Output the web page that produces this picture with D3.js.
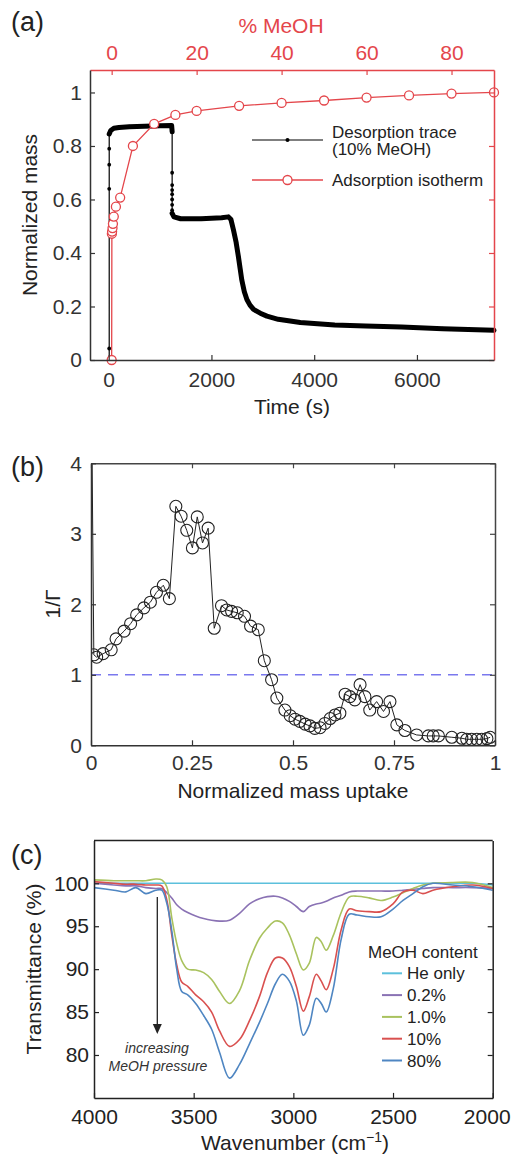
<!doctype html>
<html lang="en">
<head>
  <meta charset="utf-8">
  <title>MeOH adsorption figure</title>
  <style>
    html, body { margin: 0; padding: 0; background: white; }
    svg { display: block; font-family: "Liberation Sans", Arial, sans-serif; }
  </style>
</head>
<body>
  <svg id="fig" width="511" height="1154"></svg>

  <script src="https://d3js.org/d3.v7.min.js"></script>
  <script>
    // ---- panel (a): desorption trace (time s, normalized mass) ----
    const traceT = [10, 10, 10, 10, 10, 10, 40, 100, 200, 400, 700, 1000, 1225,
      1235, 1235, 1235, 1235, 1235, 1235, 1235, 1235, 1235,
      1270, 1400, 1800, 2200, 2330, 2380, 2430, 2480, 2525, 2560, 2590, 2640, 2690,
      2750, 2820, 2950, 3080, 3300, 3730, 4400, 5000, 5700, 6500, 7500];
    const traceM = [0, 0.043, 0.64, 0.73, 0.79, 0.845, 0.858, 0.866, 0.869, 0.872, 0.874, 0.876, 0.877,
      0.853, 0.70, 0.654, 0.635, 0.62, 0.60, 0.58, 0.56, 0.548,
      0.535, 0.528, 0.528, 0.532, 0.535, 0.525, 0.485, 0.44, 0.386, 0.34, 0.30, 0.255, 0.226,
      0.205, 0.189, 0.175, 0.164, 0.152, 0.14, 0.131, 0.127, 0.123, 0.117, 0.111];

    // adsorption isotherm (% MeOH, normalized mass)
    const isoPct = [0, 0.05, 0.1, 0.2, 0.3, 0.5, 1, 2, 5, 10, 15, 20, 30, 40, 50, 60, 70, 80, 90];
    const isoMass = [0, 0.472, 0.48, 0.493, 0.509, 0.536, 0.573, 0.607, 0.80, 0.8825, 0.916, 0.931,
      0.95, 0.961, 0.97, 0.981, 0.989, 0.996, 1.0];

    const aLeftTicks = [0, 0.2, 0.4, 0.6, 0.8, 1];
    const aTimeTicks = [0, 2000, 4000, 6000];
    const aPctTicks = [0, 20, 40, 60, 80];

    // ---- panel (b): 1/Gamma vs normalized mass uptake ----
    const uptake = [0.002, 0.007, 0.014, 0.03, 0.05, 0.062, 0.082, 0.098, 0.113, 0.131, 0.147, 0.162,
      0.179, 0.194, 0.21, 0.223, 0.237, 0.251, 0.263, 0.276, 0.29, 0.305, 0.323, 0.336, 0.348, 0.362,
      0.38, 0.395, 0.414, 0.429, 0.447, 0.46, 0.48, 0.493, 0.505, 0.517, 0.53, 0.542, 0.554, 0.567,
      0.579, 0.592, 0.604, 0.616, 0.629, 0.641, 0.653, 0.666, 0.678, 0.69, 0.707, 0.724, 0.74, 0.757,
      0.777, 0.806, 0.835, 0.847, 0.86, 0.893, 0.918, 0.93, 0.942, 0.955, 0.967, 0.98, 0.988];
    const invGamma = [4.5, 1.284, 1.25, 1.30, 1.355, 1.51, 1.62, 1.725, 1.85, 1.95, 2.03, 2.17,
      2.27, 2.08, 3.39, 3.25, 3.05, 2.80, 3.24, 2.87, 3.08, 1.66, 1.98, 1.92, 1.90, 1.88,
      1.83, 1.69, 1.64, 1.20, 0.93, 0.67, 0.50, 0.42, 0.37, 0.34, 0.30, 0.275, 0.24, 0.25,
      0.31, 0.38, 0.43, 0.455, 0.725, 0.69, 0.645, 0.86, 0.69, 0.50, 0.62, 0.48, 0.62, 0.29,
      0.21, 0.147, 0.133, 0.133, 0.133, 0.114, 0.10, 0.085, 0.085, 0.085, 0.085, 0.095, 0.114];
    const bYTicks = [0, 1, 2, 3, 4];
    const bXTicks = [0, 0.25, 0.5, 0.75, 1];

    // ---- panel (c): IR spectra ----
    const wavenumber = [4000, 3900, 3840, 3790, 3740, 3690, 3660, 3635, 3610, 3585, 3560, 3530, 3490,
      3450, 3410, 3370, 3320, 3270, 3220, 3170, 3130, 3090, 3055, 3020, 2985, 2950, 2920, 2885, 2860,
      2835, 2800, 2760, 2720, 2680, 2620, 2560, 2500, 2450, 2400, 2350, 2300, 2200, 2100, 2000];
    const tHeOnly = [100, 100, 100, 100, 100, 100, 100, 100, 100, 100, 100, 100, 100,
      100, 100, 100, 100, 100, 100, 100, 100, 100, 100, 100, 100, 100, 100, 100, 100,
      100, 100, 100, 100, 100, 100, 100, 100, 100, 100, 100, 100, 100, 100, 99.8];
    const tMeOH02 = [100.0, 99.8, 99.7, 99.7, 99.5, 99.4, 99.4, 98.9, 98.3, 97.5, 97.0, 96.6, 96.2,
      95.9, 95.7, 95.6, 95.7, 96.5, 97.6, 98.2, 98.45, 98.5, 98.3, 97.9, 97.3, 96.7, 97.3, 97.6, 97.7,
      97.9, 98.3, 98.6, 99.0, 99.1, 99.1, 99.1, 99.1, 99.2, 99.3, 99.4, 99.5, 99.5, 99.5, 99.4];
    const tMeOH1 = [100.4, 100.3, 100.3, 100.3, 100.3, 100.5, 100.4, 99.6, 96.0, 93.0, 91.0, 90.0, 89.9,
      89.6, 88.8, 87.4, 86.0, 87.5, 91.0, 93.6, 94.8, 95.6, 95.4, 94.0, 91.8, 89.9, 90.7, 93.7, 93.2,
      92.2, 93.9, 96.6, 98.4, 98.5, 98.3, 98.0, 98.4, 98.9, 99.4, 99.8, 100.0, 100.1, 100.1, 99.5];
    const tMeOH10 = [100.2, 100.0, 99.9, 99.9, 99.8, 99.8, 99.7, 98.1, 94.0, 90.5, 88.5, 88.0, 87.0,
      86.2, 85.0, 82.8, 81.0, 81.8, 84.0, 86.8, 89.6, 91.3, 91.3, 90.3, 88.0, 85.1, 86.8, 89.4, 88.6,
      87.6, 90.0, 94.6, 97.0, 96.8, 96.7, 96.7, 97.6, 99.0, 99.2, 98.8, 99.2, 99.6, 99.8, 99.4];
    const tMeOH80 = [99.5, 99.2, 99.0, 99.5, 98.8, 99.2, 99.2, 97.7, 94.5, 90.0, 87.4, 87.0, 86.0,
      84.6, 83.0, 80.3, 77.3, 78.9, 81.3, 83.8, 86.0, 88.3, 89.4, 88.6, 86.3, 82.3, 83.5, 86.6, 86.0,
      85.0, 87.7, 93.5, 96.4, 96.3, 96.1, 96.1, 97.0, 98.0, 98.8, 99.6, 100.0, 99.8, 99.6, 99.2];
    const spectraNames = ["He only", "0.2%", "1.0%", "10%", "80%"];
    const spectraValues = [tHeOnly, tMeOH02, tMeOH1, tMeOH10, tMeOH80];
    const spectraColors = ["#5cc0dc", "#8a72b4", "#a9c25e", "#d9504f", "#4f86c2"];
    const cYTicks = [80, 85, 90, 95, 100];
    const cXTicks = [4000, 3500, 3000, 2500, 2000];

    const RED = "#e4464b";
    const FONT = 21;
    const fmt = d3.format("~g");
    const svg = d3.select("#fig");

    function styleAxis(g, color, size) {
      g.attr("font-size", size || FONT).attr("font-family", null);
      g.select(".domain").attr("stroke", color).attr("stroke-width", 1.5);
      g.selectAll(".tick line").attr("stroke", color).attr("stroke-width", 1.2);
      g.selectAll(".tick text").attr("fill", color);
    }

    function rotLabel(text, x, cy) {
      return svg.append("text")
        .attr("transform", `translate(${x},${cy}) rotate(-90)`)
        .attr("text-anchor", "middle")
        .attr("font-size", FONT)
        .attr("fill", "#222")
        .text(text);
    }

    // ================= (a) =================
    const xa = d3.scaleLinear().domain([-364, 7500]).range([90, 494]);
    const xaTop = d3.scaleLinear().domain([-5.1, 90]).range([90, 494]);
    const ya = d3.scaleLinear().domain([0, 1.084]).range([360, 70]);

    const trace = traceT.map((t, i) => ({ t, m: traceM[i] }));

    // dense sampled parts drawn as a thick band, instantaneous jumps as thin lines
    const lineA = d3.line().x(d => xa(d.t)).y(d => ya(d.m));
    svg.append("path").datum(trace).attr("d", lineA)
      .attr("fill", "none").attr("stroke", "#000").attr("stroke-width", 1.2);
    let runs = [], cur = [];
    for (let i = 1; i < trace.length; i++) {
      if (trace[i].t > trace[i - 1].t) {
        if (!cur.length) cur.push(trace[i - 1]);
        cur.push(trace[i]);
      } else if (cur.length) { runs.push(cur); cur = []; }
    }
    if (cur.length) runs.push(cur);
    svg.selectAll(".band").data(runs).enter().append("path")
      .attr("d", lineA).attr("fill", "none").attr("stroke", "#000")
      .attr("stroke-width", 5).attr("stroke-linejoin", "round").attr("stroke-linecap", "round");
    svg.selectAll(".tdot").data(trace).enter().append("circle")
      .attr("cx", d => xa(d.t)).attr("cy", d => ya(d.m)).attr("r", 1.9).attr("fill", "#000");

    const iso = isoPct.map((p, i) => ({ p, m: isoMass[i] }));
    const lineIso = d3.line().x(d => xaTop(d.p)).y(d => ya(d.m));
    svg.append("path").datum(iso).attr("d", lineIso)
      .attr("fill", "none").attr("stroke", RED).attr("stroke-width", 1.3);
    svg.selectAll(".iso").data(iso).enter().append("circle")
      .attr("cx", d => xaTop(d.p)).attr("cy", d => ya(d.m)).attr("r", 4.5)
      .attr("fill", "white").attr("stroke", RED).attr("stroke-width", 1.3);

    svg.append("g").attr("transform", "translate(0,70)")
      .call(d3.axisTop(xaTop).tickValues(aPctTicks).tickSize(-5).tickSizeOuter(0).tickPadding(10).tickFormat(fmt))
      .call(g => styleAxis(g, RED));
    svg.append("g").attr("transform", "translate(494,0)")
      .call(d3.axisRight(ya).tickValues(aLeftTicks).tickSize(-5).tickSizeOuter(0).tickFormat(""))
      .call(g => styleAxis(g, RED));
    svg.append("g").attr("transform", "translate(90,0)")
      .call(d3.axisLeft(ya).tickValues(aLeftTicks).tickSize(-5).tickSizeOuter(0).tickPadding(8).tickFormat(fmt))
      .call(g => styleAxis(g, "#333"));
    svg.append("g").attr("transform", "translate(0,360)")
      .call(d3.axisBottom(xa).tickValues(aTimeTicks).tickSize(-5).tickSizeOuter(0).tickPadding(12).tickFormat(fmt))
      .call(g => styleAxis(g, "#333"));

    svg.append("text").attr("x", 281).attr("y", 33).attr("text-anchor", "middle")
      .attr("font-size", FONT).attr("fill", RED).text("% MeOH");
    svg.append("text").attr("x", 292).attr("y", 414).attr("text-anchor", "middle")
      .attr("font-size", FONT).attr("fill", "#222").text("Time (s)");
    rotLabel("Normalized mass", 37, 215);

    // legend (a)
    const legA = svg.append("g").attr("font-size", 17).attr("fill", "#222");
    legA.append("line").attr("x1", 252).attr("x2", 323).attr("y1", 140).attr("y2", 140)
      .attr("stroke", "#000").attr("stroke-width", 1.2);
    legA.append("circle").attr("cx", 287.5).attr("cy", 140).attr("r", 2).attr("fill", "#000");
    legA.append("text").attr("x", 332).attr("y", 137.5).text("Desorption trace");
    legA.append("text").attr("x", 332).attr("y", 154.5).text("(10% MeOH)");
    legA.append("line").attr("x1", 252).attr("x2", 323).attr("y1", 180).attr("y2", 180)
      .attr("stroke", RED).attr("stroke-width", 1.3);
    legA.append("circle").attr("cx", 287.5).attr("cy", 180).attr("r", 4.5)
      .attr("fill", "white").attr("stroke", RED).attr("stroke-width", 1.3);
    legA.append("text").attr("x", 332).attr("y", 186).text("Adsorption isotherm");

    // ================= (b) =================
    const xb = d3.scaleLinear().domain([0, 1]).range([91, 495]);
    const yb = d3.scaleLinear().domain([0, 4]).range([745.3, 463.3]);

    svg.append("clipPath").attr("id", "clipb").append("rect")
      .attr("x", 91).attr("y", 463.3).attr("width", 404).attr("height", 282);

    svg.append("line").attr("x1", xb(0)).attr("x2", xb(1)).attr("y1", yb(1)).attr("y2", yb(1))
      .attr("stroke", "#7a78ee").attr("stroke-width", 1.6).attr("stroke-dasharray", "10,7");

    const pb = uptake.map((u, i) => ({ u, g: invGamma[i] }));
    const gb = svg.append("g").attr("clip-path", "url(#clipb)");
    gb.append("path").datum(pb)
      .attr("d", d3.line().x(d => xb(d.u)).y(d => yb(d.g)))
      .attr("fill", "none").attr("stroke", "#222").attr("stroke-width", 1);
    gb.selectAll(".cb").data(pb).enter().append("circle")
      .attr("cx", d => xb(d.u)).attr("cy", d => yb(d.g)).attr("r", 6)
      .attr("fill", "none").attr("stroke", "#222").attr("stroke-width", 1.1);

    svg.append("g").attr("transform", "translate(0,463.3)")
      .call(d3.axisTop(xb).tickValues(bXTicks).tickSize(-5).tickSizeOuter(0).tickFormat(""))
      .call(g => styleAxis(g, "#444"));
    svg.append("g").attr("transform", "translate(495,0)")
      .call(d3.axisRight(yb).tickValues(bYTicks).tickSize(-5).tickSizeOuter(0).tickFormat(""))
      .call(g => styleAxis(g, "#444"));
    svg.append("g").attr("transform", "translate(91,0)")
      .call(d3.axisLeft(yb).tickValues(bYTicks).tickSize(-5).tickSizeOuter(0).tickPadding(9).tickFormat(fmt))
      .call(g => styleAxis(g, "#333"));
    svg.append("g").attr("transform", "translate(0,745.3)")
      .call(d3.axisBottom(xb).tickValues(bXTicks).tickSize(-5).tickSizeOuter(0).tickPadding(10).tickFormat(fmt))
      .call(g => styleAxis(g, "#333"));

    svg.append("text").attr("x", 293).attr("y", 798).attr("text-anchor", "middle")
      .attr("font-size", FONT).attr("fill", "#222").text("Normalized mass uptake");
    rotLabel("1/\u0393", 60, 604);

    // ================= (c) =================
    const xc = d3.scaleLinear().domain([4000, 2000]).range([94, 492.7]);
    const yc = d3.scaleLinear().domain([75, 105]).range([1097.9, 840.4]);

    const lineC = d3.line().x((d, i) => xc(wavenumber[i])).y(d => yc(d)).curve(d3.curveCatmullRom.alpha(0.5));
    svg.selectAll(".spec").data(spectraValues).enter().append("path")
      .attr("d", lineC).attr("fill", "none")
      .attr("stroke", (d, i) => spectraColors[i]).attr("stroke-width", 1.6);

    svg.append("line").attr("x1", xc(4000)).attr("x2", xc(2000)).attr("y1", yc(105)).attr("y2", yc(105))
      .attr("stroke", "#222").attr("stroke-width", 1.5);
    svg.append("g").attr("transform", "translate(492.7,0)")
      .call(d3.axisRight(yc).tickValues(cYTicks).tickSize(-5).tickSizeOuter(0).tickFormat(""))
      .call(g => styleAxis(g, "#222"));
    svg.append("g").attr("transform", "translate(94,0)")
      .call(d3.axisLeft(yc).tickValues(cYTicks).tickSize(-5).tickSizeOuter(0).tickPadding(5).tickFormat(fmt))
      .call(g => styleAxis(g, "#222"));
    svg.append("g").attr("transform", "translate(0,1097.9)")
      .call(d3.axisBottom(xc).tickValues(cXTicks).tickSize(-5).tickSizeOuter(0).tickPadding(11).tickFormat(fmt))
      .call(g => styleAxis(g, "#222"))
      .call(g => g.selectAll(".tick text").filter(d => d === 2000).attr("dx", -6));

    const wl = svg.append("text").attr("x", 295).attr("y", 1150).attr("text-anchor", "middle")
      .attr("font-size", FONT).attr("fill", "#222");
    wl.append("tspan").text("Wavenumber (cm");
    wl.append("tspan").attr("dy", -8).attr("font-size", 14).text("\u22121");
    wl.append("tspan").attr("dy", 8).text(")");
    rotLabel("Transmittance (%)", 41, 969);

    // arrow
    const ax = 157.3;
    svg.append("line").attr("x1", ax).attr("x2", ax).attr("y1", 897).attr("y2", 1026)
      .attr("stroke", "#222").attr("stroke-width", 1.3);
    svg.append("path").attr("d", `M${ax - 4.5},1024 L${ax + 4.5},1024 L${ax},1034 Z`).attr("fill", "#222");
    svg.append("text").attr("x", 157).attr("y", 1053).attr("text-anchor", "middle")
      .attr("font-size", 14).attr("font-style", "italic").attr("fill", "#333").text("increasing");
    svg.append("text").attr("x", 158).attr("y", 1071).attr("text-anchor", "middle")
      .attr("font-size", 14).attr("font-style", "italic").attr("fill", "#333").text("MeOH pressure");

    // legend (c)
    const legC = svg.append("g").attr("font-size", 17).attr("fill", "#222");
    legC.append("text").attr("x", 368).attr("y", 957.5).text("MeOH content");
    spectraNames.forEach((name, i) => {
      const y = 973.3 + i * 21.8;
      legC.append("line").attr("x1", 382).attr("x2", 402).attr("y1", y).attr("y2", y)
        .attr("stroke", spectraColors[i]).attr("stroke-width", 2);
      legC.append("text").attr("x", 407).attr("y", y + 6).text(name);
    });

    // panel letters
    [["(a)", 31], ["(b)", 476], ["(c)", 864]].forEach(([t, y]) => {
      svg.append("text").attr("x", 11).attr("y", y).attr("font-size", 27).attr("fill", "#222").text(t);
    });
  </script>
</body>
</html>
